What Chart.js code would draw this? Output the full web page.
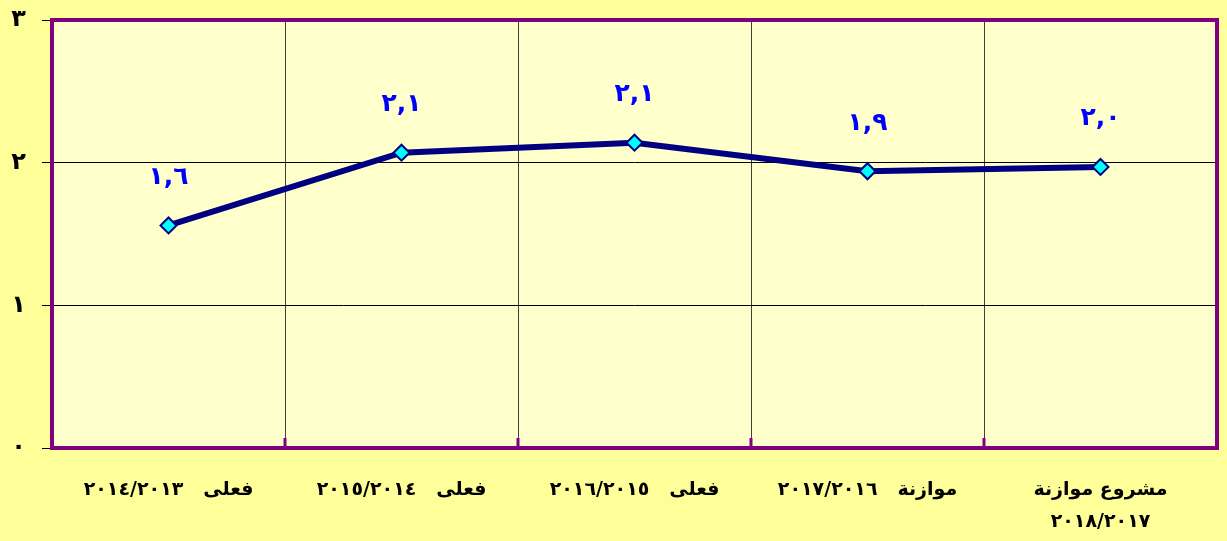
<!DOCTYPE html>
<html>
<head>
<meta charset="utf-8">
<script src="https://cdn.jsdelivr.net/npm/chart.js@4"></script>
<style>
    body { margin: 0; background: #FFFF99; }
    .chart-box { width: 1227px; height: 541px; }
</style>
</head>
<body>
<div class="chart-box"><canvas id="budget-chart" width="1227" height="541"></canvas></div>
<script>
const categories = [
    'فعلى   ٢٠١٤/٢٠١٣',
    'فعلى   ٢٠١٥/٢٠١٤',
    'فعلى   ٢٠١٦/٢٠١٥',
    'موازنة   ٢٠١٧/٢٠١٦',
    ['مشروع موازنة', '٢٠١٨/٢٠١٧']
];
const values = [1.56, 2.07, 2.14, 1.94, 1.97];
const yTickLabels = ['٠', '١', '٢', '٣'];

const arabicDigits = '٠١٢٣٤٥٦٧٨٩';
function toArabic(num) {
    return num.toFixed(1).replace(/[0-9]/g, d => arabicDigits[d]).replace('.', ',');
}

// background, purple frame, small bottom stubs and the blue value labels
const plotFrame = {
    id: 'plotFrame',
    beforeDraw(chart) {
        const ctx = chart.ctx;
        const a = chart.chartArea;
        ctx.save();
        ctx.fillStyle = '#FFFF99';
        ctx.fillRect(0, 0, chart.width, chart.height);
        ctx.fillStyle = '#FFFFCC';
        ctx.fillRect(a.left, a.top, a.right - a.left, a.bottom - a.top);
        ctx.restore();
    },
    beforeDatasetsDraw(chart) {
        const ctx = chart.ctx;
        const a = chart.chartArea;
        const x = chart.scales.x;
        ctx.save();
        ctx.strokeStyle = '#800080';
        ctx.lineWidth = 4;
        ctx.strokeRect(a.left, a.top, a.right - a.left, a.bottom - a.top);
        ctx.lineWidth = 3;
        for (let i = 0; i < categories.length - 1; i++) {
            const px = (x.getPixelForValue(i) + x.getPixelForValue(i + 1)) / 2;
            ctx.beginPath();
            ctx.moveTo(px, a.bottom);
            ctx.lineTo(px, a.bottom - 10);
            ctx.stroke();
        }
        ctx.restore();
    },
    afterDatasetsDraw(chart) {
        const ctx = chart.ctx;
        const meta = chart.getDatasetMeta(0);
        ctx.save();
        ctx.font = 'bold 25px "DejaVu Sans"';
        ctx.fillStyle = '#0000FF';
        ctx.textAlign = 'center';
        ctx.textBaseline = 'middle';
        meta.data.forEach((pt, i) => {
            ctx.fillText(toArabic(values[i]), pt.x, pt.y - 48);
        });
        ctx.restore();
    }
};

const chartCanvas = document.getElementById('budget-chart');
const budgetChart = new Chart(chartCanvas, {
    type: 'line',
    data: {
        labels: categories,
        datasets: [{
            data: values,
            borderColor: '#000080',
            borderWidth: 6,
            tension: 0,
            fill: false,
            pointStyle: 'rectRot',
            pointRadius: 8,
            pointBackgroundColor: '#00FFFF',
            pointBorderColor: '#000080',
            pointBorderWidth: 2
        }]
    },
    options: {
        responsive: false,
        animation: false,
        layout: {
            padding: { left: 2, top: 20, right: 6, bottom: 0 }
        },
        scales: {
            x: {
                offset: true,
                afterFit: function(scale) {
                    scale.height = 93;
                    scale.paddingLeft = 0;
                    scale.paddingRight = 0;
                },
                grid: {
                    offset: true,
                    color: '#404040',
                    lineWidth: 1,
                    drawTicks: false
                },
                border: { display: false },
                ticks: {
                    color: '#000000',
                    padding: 26,
                    maxRotation: 0,
                    autoSkip: false,
                    font: { family: '"DejaVu Sans"', size: 19, weight: 'bold', lineHeight: 1.7 }
                }
            },
            y: {
                min: 0,
                max: 3,
                afterFit: function(scale) {
                    scale.width = 50;
                    scale.paddingTop = 0;
                    scale.paddingBottom = 0;
                },
                grid: {
                    color: '#000000',
                    lineWidth: 1,
                    tickLength: 10
                },
                border: { display: false },
                ticks: {
                    stepSize: 1,
                    color: '#000000',
                    padding: 16,
                    font: { family: '"DejaVu Sans"', size: 24, weight: 'bold' },
                    callback: function(value) { return yTickLabels[value]; }
                }
            }
        },
        plugins: {
            legend: { display: false },
            tooltip: { enabled: false }
        }
    },
    plugins: [plotFrame]
});
</script>
</body>
</html>
